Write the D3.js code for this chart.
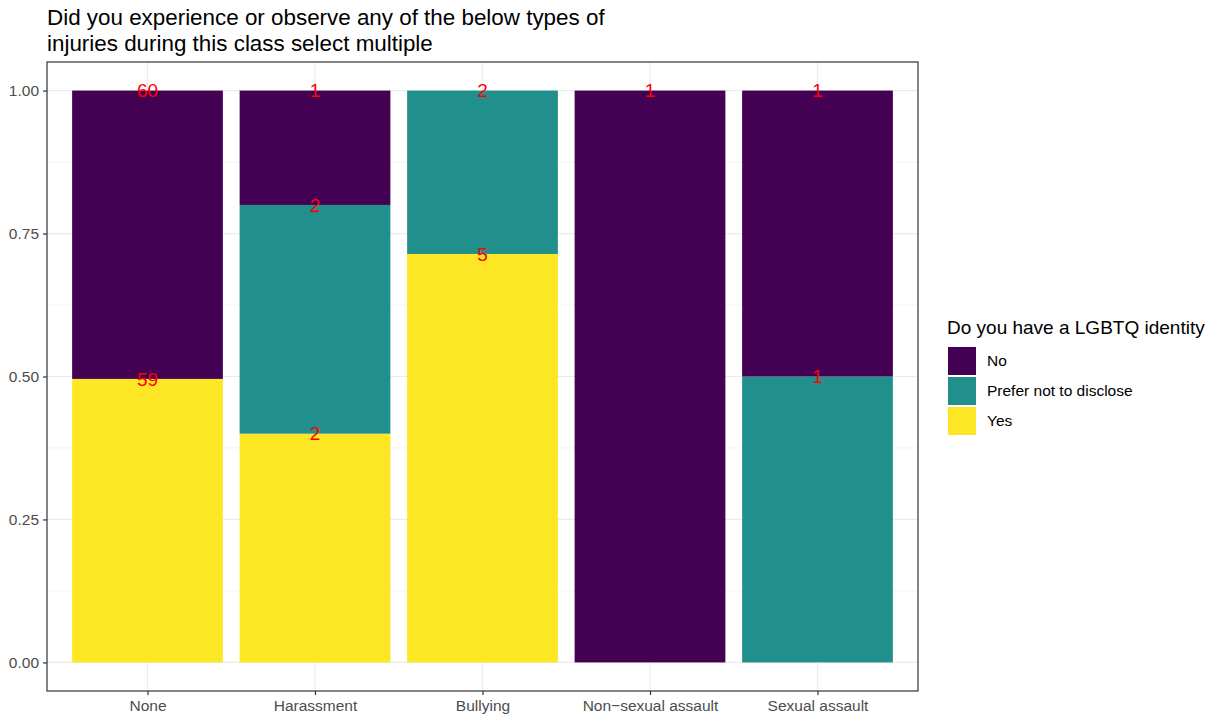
<!DOCTYPE html>
<html>
<head>
<meta charset="utf-8">
<script src="https://cdn.jsdelivr.net/npm/d3@7"></script>
<style>
  body { margin: 0; background: #fff; }
  svg { font-family: "Liberation Sans", Arial, Helvetica, sans-serif; }
</style>
</head>
<body>
<svg width="1218" height="721"></svg>
<script>
// Data
var categories = ["None", "Harassment", "Bullying", "Non\u2212sexual assault", "Sexual assault"];
var groups = ["No", "Prefer not to disclose", "Yes"];
var countNo = [60, 1, 0, 1, 1];
var countPrefer = [0, 2, 2, 0, 1];
var countYes = [59, 2, 5, 0, 0];
var yTicks = [0, 0.25, 0.5, 0.75, 1];
var colors = ["#440154", "#21908C", "#FDE725"];

var rows = categories.map(function(c, i) {
    return { cat: c, "No": countNo[i], "Prefer not to disclose": countPrefer[i], "Yes": countYes[i] };
});

// Panel edges (window.top is reserved, so prefix)
var pLeft = 47, pRight = 918, pTop = 62, pBottom = 691;

var svg = d3.select("svg");

// ggplot expands discrete axis by 0.6 units each side
var step = (pRight - pLeft) / (categories.length + 0.2);
var xscale = d3.scalePoint().domain(categories).range([pLeft + 0.6 * step, pRight - 0.6 * step]);
var barw = step * 0.9;

var yscale = d3.scaleLinear().domain([-0.05, 1.05]).range([pBottom, pTop]);

// Gridlines
var grid = svg.append("g");
[0.125, 0.375, 0.625, 0.875].forEach(function(v) {
    grid.append("line").attr("x1", pLeft).attr("x2", pRight)
        .attr("y1", yscale(v)).attr("y2", yscale(v))
        .attr("stroke", "#EBEBEB").attr("stroke-width", 0.6);
});
yTicks.forEach(function(v) {
    grid.append("line").attr("x1", pLeft).attr("x2", pRight)
        .attr("y1", yscale(v)).attr("y2", yscale(v))
        .attr("stroke", "#EBEBEB").attr("stroke-width", 1.2);
});
categories.forEach(function(c) {
    grid.append("line").attr("x1", xscale(c)).attr("x2", xscale(c))
        .attr("y1", pTop).attr("y2", pBottom)
        .attr("stroke", "#EBEBEB").attr("stroke-width", 1.2);
});

// Stacked bars (proportions)
var keys = ["Yes", "Prefer not to disclose", "No"];
var cscale = d3.scaleOrdinal().domain(groups).range(colors);
var stack = d3.stack().keys(keys).offset(d3.stackOffsetExpand)(rows);

svg.append("g").selectAll("g")
    .data(stack)
    .enter().append("g")
    .attr("fill", function(d) { return cscale(d.key); })
    .selectAll("rect")
    .data(function(d) { return d; })
    .enter().append("rect")
    .attr("x", function(d) { return xscale(d.data.cat) - barw / 2; })
    .attr("width", barw)
    .attr("y", function(d) { return yscale(d[1]); })
    .attr("height", function(d) { return yscale(d[0]) - yscale(d[1]); });

// Count labels at top of each segment
var labels = [];
stack.forEach(function(s) {
    s.forEach(function(d) {
        if (d.data[s.key] > 0) labels.push({ cat: d.data.cat, y: d[1], n: d.data[s.key] });
    });
});
svg.append("g").selectAll("text")
    .data(labels)
    .enter().append("text")
    .attr("x", function(d) { return xscale(d.cat); })
    .attr("y", function(d) { return yscale(d.y); })
    .attr("dy", "0.35em")
    .attr("text-anchor", "middle")
    .attr("fill", "#FF0000")
    .attr("font-size", 19)
    .text(function(d) { return d.n; });

// Panel border
svg.append("rect").attr("x", pLeft).attr("y", pTop)
    .attr("width", pRight - pLeft).attr("height", pBottom - pTop)
    .attr("fill", "none").attr("stroke", "#333333").attr("stroke-width", 1.2);

// Left axis
var yaxis = svg.append("g")
    .attr("transform", "translate(" + pLeft + ",0)")
    .call(d3.axisLeft(yscale).tickValues(yTicks).tickFormat(d3.format(".2f")).tickSize(4).tickPadding(4));
yaxis.select(".domain").remove();
yaxis.selectAll("line").attr("stroke", "#333333").attr("stroke-width", 1.2);
yaxis.selectAll("text").attr("fill", "#4D4D4D").attr("font-size", 15.5)
    .attr("font-family", "Liberation Sans, Arial, sans-serif");

// Bottom axis
var xaxis = svg.append("g")
    .attr("transform", "translate(0," + pBottom + ")")
    .call(d3.axisBottom(xscale).tickSize(4).tickPadding(5));
xaxis.select(".domain").remove();
xaxis.selectAll("line").attr("stroke", "#333333").attr("stroke-width", 1.2);
xaxis.selectAll("text").attr("fill", "#4D4D4D").attr("font-size", 15.5)
    .attr("font-family", "Liberation Sans, Arial, sans-serif");

// Title
var title = svg.append("text").attr("x", pLeft).attr("y", 25)
    .attr("font-size", 22.4).attr("fill", "#000");
title.append("tspan").attr("x", pLeft).attr("dy", 0).text("Did you experience or observe any of the below types of");
title.append("tspan").attr("x", pLeft).attr("dy", 26).text("injuries during this class select multiple");

// Legend
var legend = svg.append("g").attr("transform", "translate(948,0)");
legend.append("text").attr("x", -1).attr("y", 334)
    .attr("font-size", 19).attr("fill", "#000")
    .text("Do you have a LGBTQ identity");

var items = legend.selectAll("g.item")
    .data(groups)
    .enter().append("g")
    .attr("class", "item")
    .attr("transform", function(d, i) { return "translate(0," + (347 + i * 30) + ")"; });

items.append("rect")
    .attr("width", 28).attr("height", 28)
    .attr("fill", function(d) { return cscale(d); });

items.append("text")
    .attr("x", 39).attr("y", 14).attr("dy", "0.35em")
    .attr("font-size", 15.5).attr("fill", "#000")
    .text(function(d) { return d; });
</script>
</body>
</html>
